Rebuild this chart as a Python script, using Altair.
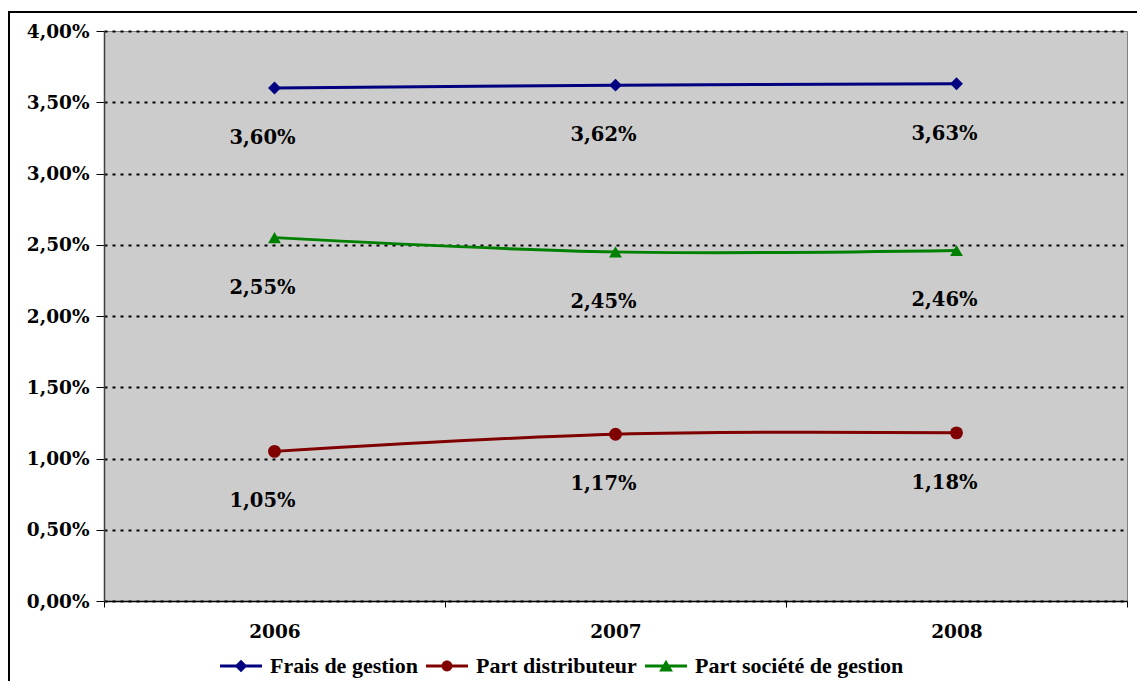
import altair as alt
import pandas as pd

# ---- data ----
years = ["2006", "2007", "2008"]
series_names = ["Frais de gestion", "Part distributeur", "Part société de gestion"]
frais = [3.60, 3.62, 3.63]
distrib = [1.05, 1.17, 1.18]
societe = [2.55, 2.45, 2.46]
y_ticks = [0, 0.5, 1, 1.5, 2, 2.5, 3, 3.5, 4]

colors = ["#000080", "#800000", "#008000"]
marker_shapes = ["diamond", "circle", "triangle-up"]

rows = []
for name, vals in zip(series_names, [frais, distrib, societe]):
    for yr, v in zip(years, vals):
        rows.append({"annee": yr, "serie": name, "valeur": v})
df = pd.DataFrame(rows)

# legend symbols: line segment + marker (custom paths in [-1, 1] box)
seg = "M-1,-0.07H1V0.07H-1Z"
legend_paths = [
    seg + " M0,-0.3L0.3,0L0,0.3L-0.3,0Z",
    seg + " M-0.26,0A0.26,0.26 0 1,1 0.26,0A0.26,0.26 0 1,1 -0.26,0Z",
    seg + " M0,-0.3L0.33,0.26H-0.33Z",
]

FONT = "DejaVu Serif"
W, H = 1023, 570

color_scale = alt.Scale(domain=series_names, range=colors)

x_enc = alt.X(
    "annee:N",
    bandPosition=0.5,
    scale=alt.Scale(type="band", paddingInner=0, paddingOuter=0),
    axis=alt.Axis(
        title=None, labelAngle=0, tickBand="extent", tickSize=6, tickColor="black",
        domainColor="black", domainWidth=1.5, labelPadding=15,
        labelFont=FONT, labelFontSize=18.5, labelFontWeight="bold", labelColor="black",
    ),
)
y_enc = alt.Y(
    "valeur:Q",
    scale=alt.Scale(domain=[0, 4], nice=False, zero=True),
    axis=alt.Axis(
        title=None, values=y_ticks,
        labelExpr="replace(format(datum.value, '.2f'), '.', ',') + '%'",
        grid=True, gridColor="black", gridDash=[3, 5], gridWidth=2,
        domainColor="#404040", domainWidth=1.5, tickColor="black", tickSize=8,
        labelPadding=7, labelFont=FONT, labelFontSize=18.5, labelFontWeight="bold",
        labelColor="black",
    ),
)

base = alt.Chart(df)

lines = base.mark_line(strokeWidth=3, interpolate="catmull-rom").encode(
    x=x_enc, y=y_enc,
    color=alt.Color("serie:N", scale=color_scale, legend=None),
    detail="serie:N",
)

points = base.mark_point(filled=True, size=165, opacity=1).encode(
    x=x_enc, y=y_enc,
    color=alt.Color("serie:N", scale=color_scale, legend=None),
    shape=alt.Shape("serie:N", scale=alt.Scale(domain=series_names, range=marker_shapes), legend=None),
)

labels = base.transform_calculate(
    lab="replace(format(datum.valeur, '.2f'), '.', ',') + '%'"
).mark_text(
    font=FONT, fontSize=19.5, fontWeight="bold", color="black", dy=50, dx=-12
).encode(x=x_enc, y=y_enc, text="lab:N")

legend_opts = dict(
    title=None, orient="none", direction="horizontal", columns=3,
    legendX=116, legendY=614, symbolSize=1764, symbolStrokeWidth=0,
    labelOffset=8, columnPadding=8, labelLimit=400, labelFont="Liberation Serif",
    labelFontSize=22, labelFontWeight="bold", labelColor="black",
)

legend_layer = base.transform_filter("false").mark_point(filled=True, opacity=1).encode(
    x=x_enc, y=y_enc,
    color=alt.Color("serie:N", scale=color_scale, legend=alt.Legend(**legend_opts)),
    shape=alt.Shape(
        "serie:N", scale=alt.Scale(domain=series_names, range=legend_paths),
        legend=alt.Legend(**legend_opts),
    ),
)

frame_src = alt.Chart(alt.Data(values=[{"k": 1}]))
frame_left = frame_src.mark_rule(color="black", strokeWidth=2).encode(
    x=alt.value(-95), y=alt.value(-19), y2=alt.value(700)
)
frame_top = frame_src.mark_rule(color="black", strokeWidth=2).encode(
    x=alt.value(-96), x2=alt.value(1100), y=alt.value(-19)
)

chart = (
    alt.layer(lines, points, labels, legend_layer, frame_left, frame_top)
    .resolve_scale(color="independent", shape="independent")
    .properties(
        width=W, height=H,
        autosize=alt.AutoSizeParams(type="none"),
        padding={"left": 96, "top": 23, "right": 10, "bottom": 80},
        background="white",
    )
    .configure_view(fill="#CCCCCC", stroke="#808080", strokeWidth=1)
)

chart.save("out.html", embed_options={"renderer": "svg", "actions": False})
